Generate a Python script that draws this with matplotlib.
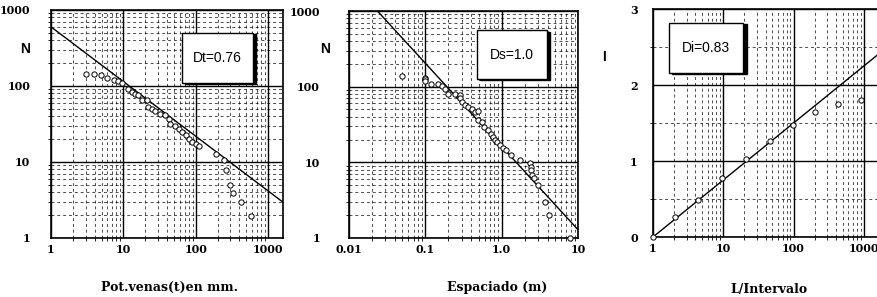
# fractal plots: vein thickness, spacing and interval counts
import matplotlib
matplotlib.use('Agg')
import matplotlib.pyplot as plt
from matplotlib.patches import Rectangle
from matplotlib.ticker import FixedLocator, NullFormatter, LogLocator
import numpy as np

# panel 1: thickness (mm) vs cumulative number
pot_t = [3.0, 3.95, 4.86, 5.9, 7.4, 8.5, 9.7, 11.6, 13.2, 14.4, 16.0, 17.9, 21.0, 22.2,
         24.7, 27.5, 32.3, 37.9, 42.2, 44.6, 52.4, 58.4, 65.1, 72.4, 80.6, 89.8, 100,
         111, 190, 245, 260, 300, 330, 417, 570]
pot_n = [145, 142, 138, 128, 121, 115, 109, 92, 84, 79, 75, 66, 65, 53,
         50, 47, 43, 41, 37, 32, 30, 27.5, 25, 22.5, 20.3, 18.3, 17.1,
         16.1, 12.6, 10.7, 7.8, 5.0, 3.9, 3.0, 1.95]
fit_t = (600, -0.72)

# panel 2: spacing (m) vs cumulative number
esp_s = [0.049, 0.099, 0.099, 0.099, 0.117, 0.145, 0.164, 0.181, 0.20, 0.245, 0.284, 0.284,
         0.30, 0.33, 0.366, 0.405, 0.446, 0.49, 0.49, 0.55, 0.59, 0.67, 0.72, 0.78, 0.82,
         0.86, 0.95, 1.05, 1.13, 1.31, 1.74, 2.34, 2.41, 2.45, 2.53, 2.63, 3.0, 3.7, 4.2, 7.8]
esp_n = [138, 131, 125, 119, 109, 107, 101, 94, 81, 81, 77, 70,
         63, 58, 54, 50, 46, 48, 36, 34, 29.5, 26.6, 23.6, 21.8, 19.6,
         18.7, 16.9, 15.3, 14.5, 12.5, 10.7, 9.7, 8.8, 7.9, 6.8, 6.2, 5.0, 2.95, 2.0, 1.0]
fit_s = (16.2, -1.1)

# panel 3: L/interval vs I
int_l = [1.0, 2.08, 4.35, 9.7, 20.8, 46, 98, 204, 425, 915]
int_i = [0.0, 0.26, 0.49, 0.78, 1.02, 1.26, 1.48, 1.65, 1.75, 1.80]
fit_i = 0.75

W, H = 878, 297
fig = plt.figure(figsize=(W/100, H/100), dpi=100)

serif = dict(family='DejaVu Serif', weight='bold')

def frame(ax, ypad):
    ax.tick_params(length=0, labelsize=8, pad=4)
    ax.tick_params(axis='y', pad=ypad)
    for lab in ax.get_xticklabels() + ax.get_yticklabels():
        lab.set_fontfamily('DejaVu Serif')
        lab.set_fontweight('bold')
    for s in ax.spines.values():
        s.set_linewidth(1.2)
    ax.grid(which='major', color='black', lw=1.0, ls='-')
    ax.grid(which='minor', color='black', lw=0.7, ls=(0, (3, 3)), alpha=0.7)
    ax.set_axisbelow(True)

def dbox(ax, x0, y0, w, h, txt):
    sh = Rectangle((x0 + 0.014, y0 - 0.006), w, h, transform=ax.transAxes,
                   fc='black', ec='black', zorder=4)
    bx = Rectangle((x0, y0), w, h, transform=ax.transAxes, fc='white', ec='black',
                   lw=1.0, zorder=5)
    ax.add_patch(sh)
    ax.add_patch(bx)
    ax.text(x0 + w/2, y0 + h/2, txt, transform=ax.transAxes, ha='center', va='center',
            family='Liberation Sans', fontsize=10, zorder=6)

mk = dict(ls='none', marker='o', ms=3.8, mfc='white', mec='black', mew=0.7, zorder=3, clip_on=False)

# ---- panel 1
ax1 = fig.add_axes([51/W, 59/H, 232/W, 228/H])
ax1.set_xscale('log'); ax1.set_yscale('log')
ax1.set_xlim(1, 1600); ax1.set_ylim(1, 1000)
xx = np.logspace(0, np.log10(1600), 50)
ax1.plot(xx, fit_t[0]*xx**fit_t[1], color='black', lw=1.0, zorder=2)
ax1.plot(pot_t, pot_n, **mk)
ax1.set_xticks([1, 10, 100, 1000], ['1', '10', '100', '1000'])
ax1.set_yticks([1, 10, 100, 1000], ['1', '10', '100', '1000'])
ax1.xaxis.set_minor_locator(LogLocator(subs=np.arange(2, 10)))
ax1.yaxis.set_minor_locator(LogLocator(subs=np.arange(2, 10)))
ax1.xaxis.set_minor_formatter(NullFormatter()); ax1.yaxis.set_minor_formatter(NullFormatter())
frame(ax1, 15)
ax1.set_xlabel('Pot.venas(t)en mm.', fontsize=9, **serif)
ax1.xaxis.set_label_coords(0.51, -0.19)
ax1.set_ylabel('N', rotation=0, fontsize=10, weight='bold', family='Liberation Sans')
ax1.yaxis.set_label_coords(-0.112, 0.8)
dbox(ax1, 0.565, 0.68, 0.305, 0.22, 'Dt=0.76')

# ---- panel 2
ax2 = fig.add_axes([349/W, 59/H, 229/W, 227/H])
ax2.set_xscale('log'); ax2.set_yscale('log')
ax2.set_xlim(0.01, 10); ax2.set_ylim(1, 1000)
xx = np.logspace(-2, 1, 50)
ax2.plot(xx, fit_s[0]*xx**fit_s[1], color='black', lw=1.0, zorder=2)
ax2.plot(esp_s, esp_n, **mk)
ax2.set_xticks([0.01, 0.1, 1, 10], ['0.01', '0.1', '1.0', '10'])
ax2.set_yticks([1, 10, 100, 1000], ['1', '10', '100', '1000'])
ax2.xaxis.set_minor_locator(LogLocator(subs=np.arange(2, 10)))
ax2.yaxis.set_minor_locator(LogLocator(subs=np.arange(2, 10)))
ax2.xaxis.set_minor_formatter(NullFormatter()); ax2.yaxis.set_minor_formatter(NullFormatter())
frame(ax2, 21)
ax2.set_xlabel('Espaciado (m)', fontsize=9, **serif)
ax2.xaxis.set_label_coords(0.646, -0.19)
ax2.set_ylabel('N', rotation=0, fontsize=10, weight='bold', family='Liberation Sans')
ax2.yaxis.set_label_coords(-0.105, 0.8)
dbox(ax2, 0.56, 0.7, 0.305, 0.215, 'Ds=1.0')

# ---- panel 3
ax3 = fig.add_axes([653/W, 60/H, 232/W, 228/H])
ax3.set_xscale('log')
ax3.set_xlim(1, 2000); ax3.set_ylim(0, 3)
xx = np.logspace(0, np.log10(2000), 50)
ax3.plot(xx, fit_i*np.log10(xx), color='black', lw=1.0, zorder=2)
ax3.plot(int_l, int_i, **mk)
ax3.set_xticks([1, 10, 100, 1000], ['1', '10', '100', '1000'])
ax3.set_yticks([0, 1, 2, 3], ['0', '1', '2', '3'])
ax3.xaxis.set_minor_locator(LogLocator(subs=np.arange(2, 10)))
ax3.yaxis.set_minor_locator(FixedLocator([0.5, 1.5, 2.5]))
ax3.xaxis.set_minor_formatter(NullFormatter())
frame(ax3, 11)
ax3.set_xlabel('L/Intervalo', fontsize=9, **serif)
ax3.xaxis.set_label_coords(0.5, -0.2)
ax3.set_ylabel('I', rotation=0, fontsize=10, weight='bold', family='Liberation Sans')
ax3.yaxis.set_label_coords(-0.21, 0.76)
dbox(ax3, 0.07, 0.72, 0.32, 0.22, 'Di=0.83')

fig.savefig('out.png', dpi=100)
